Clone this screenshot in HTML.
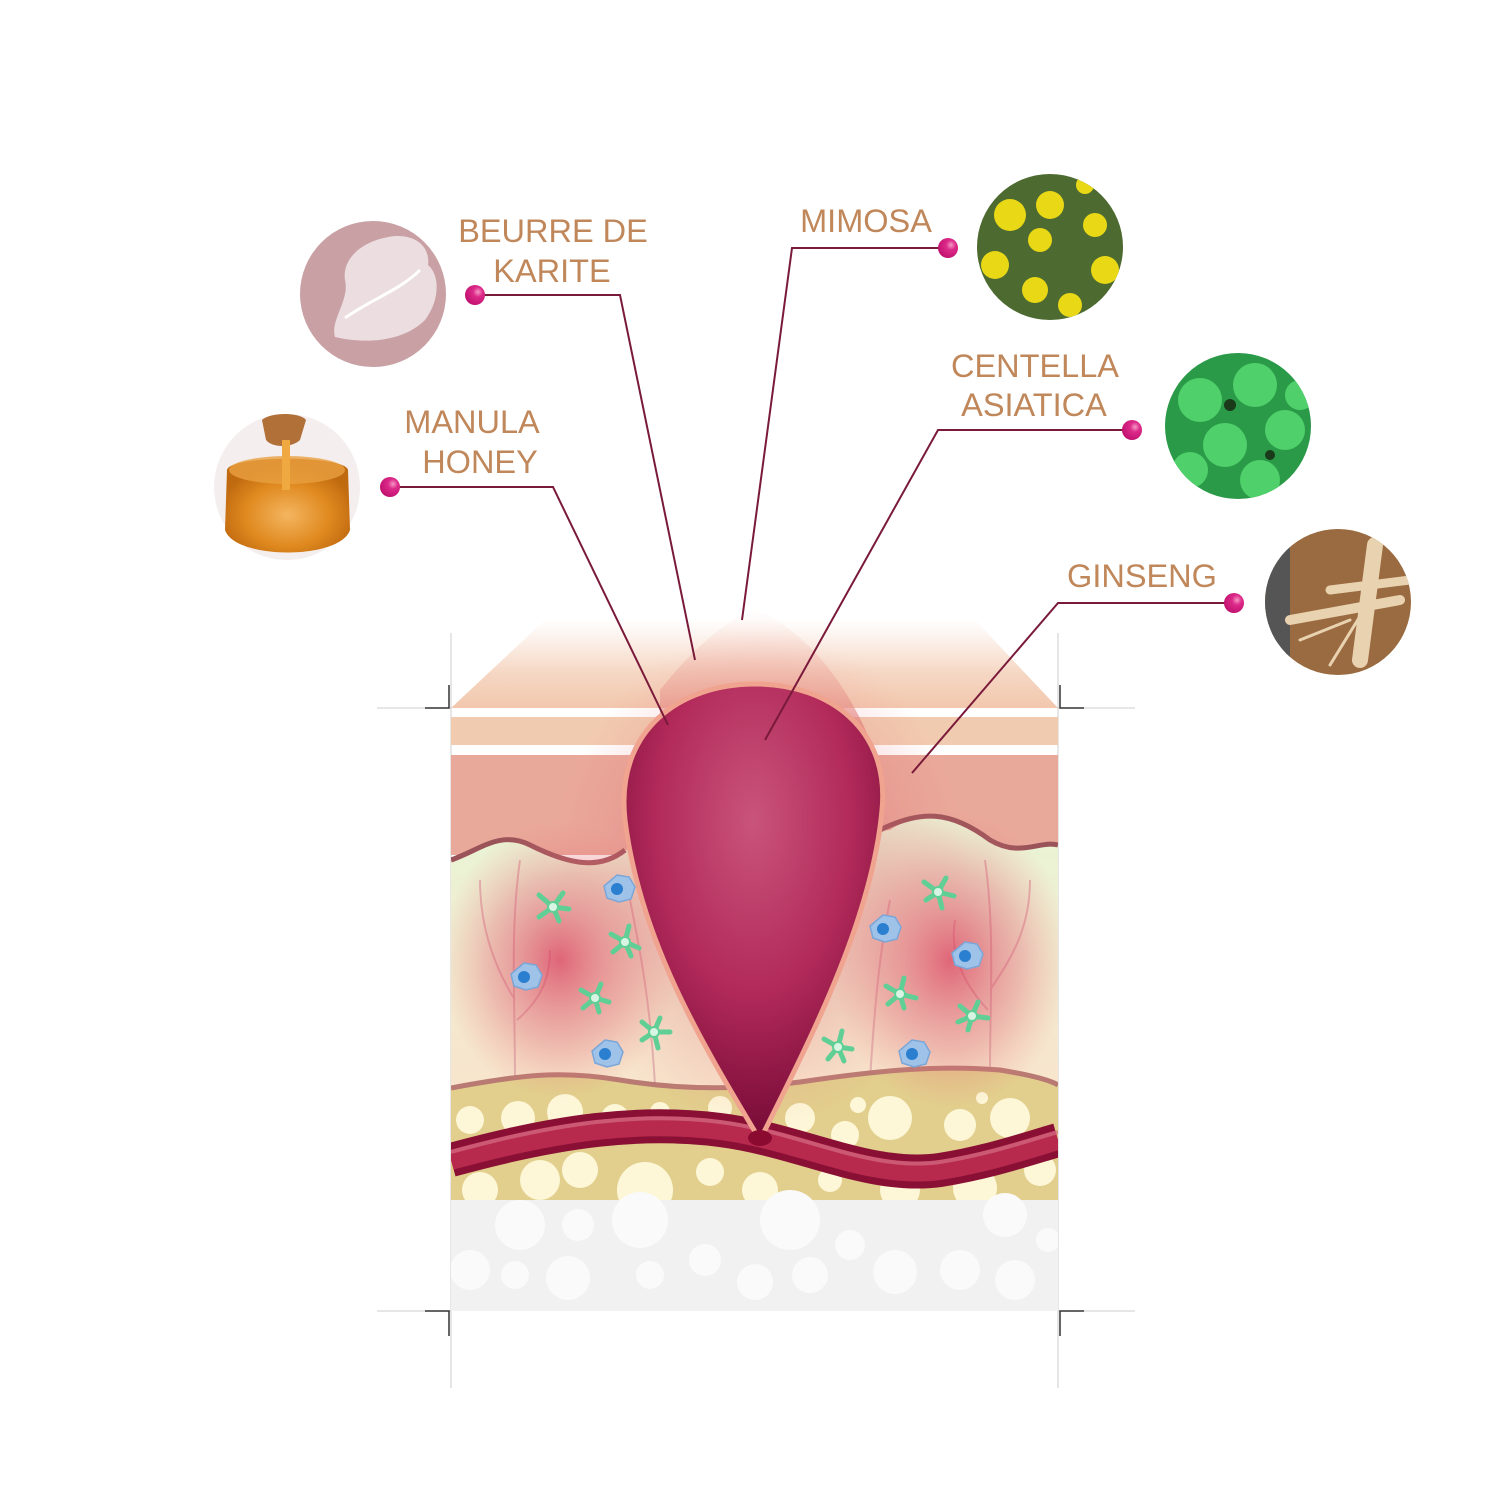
<!DOCTYPE html>
<html><head><meta charset="utf-8"><style>html,body{margin:0;padding:0;background:#fff}svg{display:block}</style></head><body>
<svg width="1500" height="1500" viewBox="0 0 1500 1500" xmlns="http://www.w3.org/2000/svg">
<defs>
<linearGradient id="top" x1="0" y1="0" x2="0" y2="1"><stop offset="0" stop-color="#f5d2bd" stop-opacity="0"/><stop offset="0.6" stop-color="#f3cdb5" stop-opacity="0.8"/><stop offset="1" stop-color="#f2c7ad"/></linearGradient>
<linearGradient id="derm" x1="0" y1="0" x2="0" y2="1"><stop offset="0" stop-color="#e9f5d6"/><stop offset="1" stop-color="#f8e4cc"/></linearGradient>
<radialGradient id="pim" cx="0.5" cy="0.3" r="0.75"><stop offset="0" stop-color="#c9547b"/><stop offset="0.5" stop-color="#b22a5a"/><stop offset="1" stop-color="#6c0530"/></radialGradient>
<radialGradient id="glow" cx="0.5" cy="0.5" r="0.5"><stop offset="0" stop-color="#d9385a" stop-opacity="0.75"/><stop offset="0.6" stop-color="#e06070" stop-opacity="0.35"/><stop offset="1" stop-color="#f08080" stop-opacity="0"/></radialGradient>
<linearGradient id="tipglow" x1="0" y1="0" x2="0" y2="1"><stop offset="0" stop-color="#f4c2b0" stop-opacity="0"/><stop offset="1" stop-color="#e07a78"/></linearGradient>
<radialGradient id="dot" cx="0.65" cy="0.35" r="0.7"><stop offset="0" stop-color="#f59ac6"/><stop offset="0.35" stop-color="#dd2a8a"/><stop offset="1" stop-color="#c0106e"/></radialGradient>
<radialGradient id="honey" cx="0.5" cy="0.6" r="0.55"><stop offset="0" stop-color="#f4b560"/><stop offset="0.6" stop-color="#e08a20"/><stop offset="1" stop-color="#c06a10"/></radialGradient>
<clipPath id="c1"><circle cx="1050" cy="247" r="73"/></clipPath>
<clipPath id="c2"><circle cx="1238" cy="426" r="73"/></clipPath>
<clipPath id="c3"><circle cx="1338" cy="602" r="73"/></clipPath>
<clipPath id="box"><rect x="451" y="600" width="607" height="711"/></clipPath>
</defs>

<g stroke="#cccccc" stroke-width="1">
<line x1="451" y1="633" x2="451" y2="1388"/><line x1="1058" y1="633" x2="1058" y2="1388"/>
<line x1="377" y1="708" x2="451" y2="708"/><line x1="1058" y1="708" x2="1135" y2="708"/>
<line x1="377" y1="1311" x2="451" y2="1311"/><line x1="1058" y1="1311" x2="1135" y2="1311"/>
</g>
<g stroke="#333" stroke-width="1.5" fill="none">
<path d="M425 708 H449 V685"/><path d="M1060 685 V708 H1084"/>
<path d="M425 1311 H449 V1336"/><path d="M1060 1336 V1311 H1084"/>
</g>

<g clip-path="url(#box)">
<polygon points="451,708 545,620 975,620 1058,708" fill="url(#top)"/>
<rect x="451" y="717" width="607" height="28" fill="#f1cbb0"/>
<rect x="451" y="755" width="607" height="100" fill="#e9a99a"/>
<path d="M451 860 C480 850 500 830 530 845 C570 865 600 870 625 850 L890 830 C920 810 950 810 990 840 C1020 855 1040 840 1058 845 L1058 1090 L451 1090 Z" fill="url(#derm)"/>
<path d="M451 860 C480 850 500 830 530 845 C570 865 600 870 625 850" fill="none" stroke="#9a5358" stroke-width="5"/>
<path d="M880 830 C920 810 950 810 990 840 C1020 858 1040 840 1058 845" fill="none" stroke="#9a5358" stroke-width="5"/>
<g stroke="#e0b4b0" stroke-width="2" fill="none">
<path d="M515 1080 C515 1000 510 930 520 860 M515 1000 C490 960 480 920 480 880 M517 1020 C540 1000 550 980 550 950"/>
<path d="M990 1070 C990 1000 995 930 985 860 M990 990 C1010 960 1030 930 1030 880 M988 1010 C960 980 950 950 955 920"/>
<path d="M655 1085 C650 1000 640 950 630 900"/><path d="M870 1080 C875 1000 880 950 890 900"/>
</g>
<path d="M451 1088 C520 1075 560 1070 620 1080 C680 1090 740 1090 800 1082 C880 1070 940 1065 1000 1070 C1030 1075 1050 1080 1058 1085 L1058 1200 L451 1200 Z" fill="#e2cf8d"/>
<path d="M451 1088 C520 1075 560 1070 620 1080 C680 1090 740 1090 800 1082 C880 1070 940 1065 1000 1070 C1030 1075 1050 1080 1058 1085" fill="none" stroke="#b87a72" stroke-width="5"/>
<g fill="#fdf7d8">
<circle cx="470" cy="1120" r="14"/><circle cx="518" cy="1118" r="17"/><circle cx="565" cy="1112" r="18"/><circle cx="615" cy="1118" r="14"/><circle cx="660" cy="1112" r="10"/><circle cx="720" cy="1108" r="12"/><circle cx="800" cy="1118" r="15"/><circle cx="845" cy="1135" r="14"/><circle cx="890" cy="1118" r="22"/><circle cx="960" cy="1125" r="16"/><circle cx="1010" cy="1118" r="20"/><circle cx="858" cy="1105" r="8"/><circle cx="982" cy="1098" r="6"/>
<circle cx="480" cy="1190" r="18"/><circle cx="540" cy="1180" r="20"/><circle cx="580" cy="1170" r="18"/><circle cx="645" cy="1190" r="28"/><circle cx="710" cy="1172" r="14"/><circle cx="760" cy="1190" r="18"/><circle cx="830" cy="1180" r="12"/><circle cx="900" cy="1190" r="20"/><circle cx="975" cy="1188" r="22"/><circle cx="1040" cy="1170" r="16"/>
</g>
<rect x="451" y="1200" width="607" height="111" fill="#f1f1f1"/>
<g fill="#fafafa">
<circle cx="470" cy="1270" r="20"/><circle cx="520" cy="1225" r="25"/><circle cx="568" cy="1278" r="22"/><circle cx="578" cy="1225" r="16"/><circle cx="640" cy="1220" r="28"/><circle cx="650" cy="1275" r="14"/><circle cx="705" cy="1260" r="16"/><circle cx="755" cy="1282" r="18"/><circle cx="790" cy="1220" r="30"/><circle cx="810" cy="1275" r="18"/><circle cx="850" cy="1245" r="15"/><circle cx="895" cy="1272" r="22"/><circle cx="960" cy="1270" r="20"/><circle cx="1005" cy="1215" r="22"/><circle cx="1015" cy="1280" r="20"/><circle cx="1048" cy="1240" r="12"/><circle cx="515" cy="1275" r="14"/>
</g>
<ellipse cx="560" cy="960" rx="120" ry="140" fill="url(#glow)"/>
<ellipse cx="950" cy="960" rx="120" ry="150" fill="url(#glow)"/>
<ellipse cx="760" cy="880" rx="210" ry="250" fill="url(#glow)" opacity="0.7"/>
<path d="M660 690 C700 640 730 620 755 608 C800 630 840 670 870 740 L660 720 Z" fill="url(#tipglow)" opacity="0.8"/>
<path d="M451 1160 C560 1130 640 1120 720 1130 C800 1140 870 1180 940 1170 C990 1162 1030 1148 1058 1140" fill="none" stroke="#8a0f35" stroke-width="34"/>
<path d="M451 1160 C560 1130 640 1120 720 1130 C800 1140 870 1180 940 1170 C990 1162 1030 1148 1058 1140" fill="none" stroke="#b72a4e" stroke-width="20"/>
<path d="M451 1152 C560 1122 640 1112 720 1122 C800 1132 870 1172 940 1162 C990 1154 1030 1140 1058 1132" fill="none" stroke="#d46d85" stroke-width="4" opacity="0.7"/>
<path d="M760 1140 C700 1040 640 940 625 820 C615 730 680 684 755 684 C830 684 890 730 882 810 C872 920 810 1040 760 1140 Z" fill="url(#pim)" stroke="#f0a38e" stroke-width="5"/>
<ellipse cx="760" cy="1138" rx="12" ry="8" fill="#8a0a30"/>
</g>
<g>
<g fill="#9fc2e8" stroke="#7aa6d8" stroke-width="1.5">
<path d="M617 875 l12 2 6 10 -4 12 -12 3 -12 -4 -3 -12 z"/>
<path d="M524 963 l12 2 6 10 -4 12 -12 3 -12 -4 -3 -12 z"/>
<path d="M605 1040 l12 2 6 10 -4 12 -12 3 -12 -4 -3 -12 z"/>
<path d="M883 915 l12 2 6 10 -4 12 -12 3 -12 -4 -3 -12 z"/>
<path d="M965 942 l12 2 6 10 -4 12 -12 3 -12 -4 -3 -12 z"/>
<path d="M912 1040 l12 2 6 10 -4 12 -12 3 -12 -4 -3 -12 z"/>
</g>
<g fill="#2a7fd0"><circle cx="617" cy="889" r="6"/><circle cx="524" cy="977" r="6"/><circle cx="605" cy="1054" r="6"/><circle cx="883" cy="929" r="6"/><circle cx="965" cy="956" r="6"/><circle cx="912" cy="1054" r="6"/></g>
<g stroke="#5fcf95" stroke-width="5" stroke-linecap="round" fill="none">
<path d="M553 907 l-14 -12 M553 907 l10 -14 M553 907 l16 2 M553 907 l6 14 M553 907 l-14 10"/>
<path d="M625 942 l-14 -8 M625 942 l4 -16 M625 942 l14 6 M625 942 l6 14 M625 942 l-12 10"/>
<path d="M595 998 l-14 -8 M595 998 l6 -14 M595 998 l14 4 M595 998 l4 14 M595 998 l-12 10"/>
<path d="M654 1032 l-12 -10 M654 1032 l6 -14 M654 1032 l16 0 M654 1032 l4 16 M654 1032 l-12 8"/>
<path d="M938 892 l-14 -10 M938 892 l8 -14 M938 892 l16 4 M938 892 l4 16 M938 892 l-12 8"/>
<path d="M900 994 l-14 -8 M900 994 l4 -16 M900 994 l16 4 M900 994 l4 14 M900 994 l-12 10"/>
<path d="M972 1016 l-12 -10 M972 1016 l6 -14 M972 1016 l16 2 M972 1016 l-4 14 M972 1016 l-14 6"/>
<path d="M838 1047 l-14 -8 M838 1047 l4 -16 M838 1047 l14 2 M838 1047 l6 14 M838 1047 l-10 12"/>
</g>
<g fill="#d8f5e4" stroke="#5fcf95" stroke-width="2"><circle cx="553" cy="907" r="5"/><circle cx="625" cy="942" r="5"/><circle cx="595" cy="998" r="5"/><circle cx="654" cy="1032" r="5"/><circle cx="938" cy="892" r="5"/><circle cx="900" cy="994" r="5"/><circle cx="972" cy="1016" r="5"/><circle cx="838" cy="1047" r="5"/></g>
</g>

<g stroke="#7a1a3a" stroke-width="2" fill="none">
<path d="M475 295 H620 L695 660"/>
<path d="M948 248 H792 L742 620"/>
<path d="M1132 430 H938 L765 740"/>
<path d="M390 487 H553 L668 725"/>
<path d="M1234 603 H1058 L912 773"/>
</g>
<g fill="url(#dot)"><circle cx="475" cy="295" r="10"/><circle cx="948" cy="248" r="10"/><circle cx="1132" cy="430" r="10"/><circle cx="390" cy="487" r="10"/><circle cx="1234" cy="603" r="10"/></g>

<g font-family="Liberation Sans, sans-serif" font-size="32.5" fill="#c0875a" text-anchor="middle">
<text x="553" y="242">BEURRE DE</text><text x="552" y="282">KARITE</text>
<text x="866" y="232">MIMOSA</text>
<text x="1035" y="377">CENTELLA</text><text x="1034" y="416">ASIATICA</text>
<text x="472" y="433">MANULA</text><text x="480" y="473">HONEY</text>
<text x="1142" y="587">GINSENG</text>
</g>

<circle cx="373" cy="294" r="73" fill="#c9a1a5"/>
<path d="M335 337 C330 320 350 300 345 280 C342 260 360 240 395 236 C420 235 430 250 428 265 C440 275 440 300 425 320 C405 340 370 345 335 337 Z" fill="#ecdde0"/>
<path d="M345 318 C370 300 400 290 420 270" stroke="#fff" stroke-width="3" fill="none"/>

<circle cx="287" cy="487" r="73" fill="#f4eeee"/>
<path d="M227 470 C230 455 345 455 348 470 L350 530 C340 560 235 560 225 530 Z" fill="url(#honey)"/>
<ellipse cx="287" cy="470" rx="58" ry="14" fill="#e9a040" opacity="0.8"/>
<path d="M262 420 C270 412 300 412 306 420 L300 440 C292 448 272 448 266 440 Z" fill="#b07038"/>
<rect x="282" y="440" width="8" height="50" fill="#f0a840"/>

<g clip-path="url(#c1)">
<rect x="970" y="170" width="160" height="160" fill="#4d6a30"/>
<g fill="#e9d816">
<circle cx="1010" cy="215" r="16"/><circle cx="1050" cy="205" r="14"/><circle cx="1040" cy="240" r="12"/><circle cx="995" cy="265" r="14"/><circle cx="1035" cy="290" r="13"/><circle cx="1095" cy="225" r="12"/><circle cx="1105" cy="270" r="14"/><circle cx="1070" cy="305" r="12"/><circle cx="1085" cy="185" r="9"/><circle cx="985" cy="300" r="10"/>
</g>
</g>
<g clip-path="url(#c2)">
<rect x="1160" y="350" width="160" height="160" fill="#2a9a48"/>
<g fill="#4fd06a">
<circle cx="1200" cy="400" r="22"/><circle cx="1255" cy="385" r="22"/><circle cx="1285" cy="430" r="20"/><circle cx="1225" cy="445" r="22"/><circle cx="1190" cy="470" r="18"/><circle cx="1260" cy="480" r="20"/><circle cx="1300" cy="395" r="15"/>
</g>
<g fill="#1a3a1a"><circle cx="1230" cy="405" r="6"/><circle cx="1270" cy="455" r="5"/></g>
</g>
<g clip-path="url(#c3)">
<rect x="1260" y="525" width="160" height="160" fill="#9a6a40"/>
<rect x="1260" y="525" width="30" height="160" fill="#555"/>
<g stroke="#e9d2b0" stroke-linecap="round" fill="none">
<path d="M1375 545 L1360 660" stroke-width="16"/>
<path d="M1290 620 L1400 600" stroke-width="10"/>
<path d="M1330 590 L1410 580" stroke-width="9"/>
<path d="M1370 600 L1330 665 M1350 620 L1300 640" stroke-width="3"/>
</g>
</g>
</svg>
</body></html>
